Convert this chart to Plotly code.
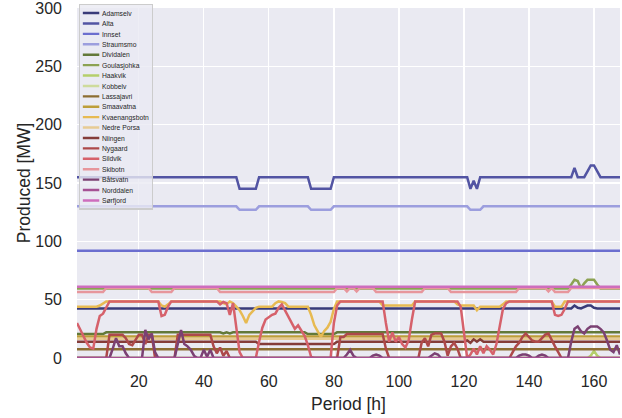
import plotly.graph_objects as go

hours = list(range(1, 169))

names = ["Adamselv", "Alta", "Innset", "Straumsmo", "Dividalen", "Goulasjohka",
         "Haakvik", "Kobbelv", "Lassajavri", "Smaavatna", "Kvaenangsbotn",
         "Nedre Porsa", "Niingen", "Nygaard", "Sildvik", "Skibotn", "Båtsvatn",
         "Norddalen", "Sørfjord"]

colors = ["#393b79", "#5254a3", "#6b6ecf", "#9c9ede", "#637939", "#8ca252",
          "#b5cf6b", "#cedb9c", "#8c6d31", "#bd9e39", "#e7ba52", "#e7cb94",
          "#843c39", "#ad494a", "#d6616b", "#e7969c", "#7b4173", "#a55194",
          "#ce6dbd"]

adamselv = [42.5] * 153 + [45, 43, 42.5, 44, 45, 45, 43] + [42.5] * 8
alta = ([155] * 50 + [145] * 6 + [155] * 16 + [145] * 7 + [155] * 42 +
        [145, 152, 145] + [155] * 29 + [163] + [155] * 3 + [160, 165, 165, 160] + [155] * 7)
innset = [92] * 168
straumsmo = ([130] * 50 + [127] * 6 + [130] * 16 + [127] * 7 + [130] * 42 +
             [127] * 4 + [130] * 43)
dividalen = [20.5] * 9 + [22] * 36 + [21, 22, 21] + [22] * 23 + [20.5] * 9 + [22] * 88
goulasjohka = [59.5] * 152 + [63, 67, 66, 60, 64, 67, 67, 67, 63, 59.5] + [59.5] * 6
haakvik = [0] * 158 + [2, 6, 2] + [0] * 7
kobbelv = [0] * 168
lassajavri = [7.5] * 168
smaavatna = [18.5] * 168
kvaenangsbotn = ([44] * 7 + [45, 47] + [48.5] * 17 + [45, 44, 46] + [48.5] * 16 +
                 [47, 46, 48.5, 47, 44, 41, 36, 30, 37, 40, 43] + [44] * 5 +
                 [47, 48.5, 48, 47, 44] + [44] * 6 +
                 [37, 28, 23, 18, 23, 26, 31, 42] + [48.5] * 14 + [45] * 10 +
                 [48.5] * 13 + [46] + [45] * 5 + [41] + [44] * 7 + [46] +
                 [48.5] * 15 + [44] * 3 + [48.5] * 18)
nedre_porsa = [16.5] * 168
niingen = [14] * 56 + [12] * 24 + [14] * 40 + [15, 13, 16, 14, 16] + [14] * 43
nygaard = ([0] * 10 + [20] * 5 + [17, 12, 11, 15, 20, 20, 12, 20, 20] + [0] * 7 +
           [20] * 11 + [10, 4, 9, 2, 6] + [0] * 34 + [18, 18] + [20.5] * 12 + [8] +
           [0] * 10 + [13, 17, 10, 20, 21, 21, 21, 14, 2, 10, 13, 8] + [0] * 16 +
           [5, 10, 13, 18, 21, 18, 15, 14, 14, 17, 20, 21, 15, 10, 5] + [0] * 19)
sildvik = ([30, 24, 18, 13, 9, 8, 25, 36, 38, 44] + [48.5] * 16 + [36, 37, 44] +
           [48.5] * 14 + [48.5, 46, 48, 47, 37, 47, 28, 5] + [0] * 5 +
           [14, 26, 33, 35, 37, 38, 43, 46, 41, 35, 30, 25, 28, 24, 19, 11, 1] +
           [0] * 6 + [30, 45] + [48.5] * 14 + [30, 14, 22, 14, 18, 12, 9, 15, 33] +
           [48.5] * 14 + [44, 20, 0, 3, 8, 3, 10, 4, 10, 7, 3, 12, 28, 42, 47] +
           [48.5] * 14 + [37, 36, 37, 42] + [48.5] * 17)
skibotn = ([56.5] * 9 + [60] * 14 + [56.5] * 7 + [60] * 14 + [56.5] * 36 +
           [60, 60, 60, 57, 60, 60, 57] + [60] * 5 + [56.5] * 15 + [60] * 8 +
           [56.5] * 21 + [60] * 9 + [57, 60] + [56.5] * 5 + [60] * 16)
batsvatn = ([0] * 11 + [8, 17, 10, 10, 4] + [0] * 5 + [24, 16, 21, 5] + [0] * 6 +
            [12, 24, 12, 10, 7, 2] + [0] * 2 + [7, 1, 7] + [0] * 41 + [3, 7, 2] +
            [0] * 5 + [2, 3, 2] + [0] * 15 + [2, 4, 3] + [0] * 24 +
            [2, 3, 3, 2, 0, 0, 2, 3, 2] + [0] * 7 +
            [14, 25, 27, 23, 21, 25, 27, 27, 27, 25, 22, 15, 7, 5, 11, 3])
norddalen = [0] * 168
sorfjord = [61] * 168

series = [adamselv, alta, innset, straumsmo, dividalen, goulasjohka, haakvik,
          kobbelv, lassajavri, smaavatna, kvaenangsbotn, nedre_porsa, niingen,
          nygaard, sildvik, skibotn, batsvatn, norddalen, sorfjord]

x_ticks = [20, 40, 60, 80, 100, 120, 140, 160]
y_ticks = [0, 50, 100, 150, 200, 250, 300]

fig = go.Figure()
for name, vals, col in zip(names, series, colors):
    fig.add_trace(go.Scatter(x=hours, y=vals, mode="lines", name=name,
                             line=dict(color=col, width=2.5)))

font_family = "Liberation Sans, Arial, sans-serif"
fig.update_layout(
    template="none",
    width=622, height=418,
    margin=dict(l=77, r=2, t=8, b=60),
    paper_bgcolor="white",
    plot_bgcolor="#EAEAF2",
    font=dict(family=font_family, color="#262626"),
    showlegend=True,
    hovermode=False,
    legend=dict(x=0.005, y=0.995, xanchor="left", yanchor="top",
                bgcolor="rgba(234,234,242,0.8)", bordercolor="#CCCCCC",
                borderwidth=2, font=dict(size=12.3, color="#262626"),
                itemwidth=30, tracegroupgap=0, maxheight=600),
)
fig.update_xaxes(range=[1, 168], tickvals=x_ticks, showgrid=True,
                 gridcolor="white", gridwidth=1.3, zeroline=False,
                 showline=False, ticks="", tickfont=dict(size=16),
                 ticklabelstandoff=12,
                 automargin=False, ticklabeloverflow="allow",
                 title=dict(text="Period [h]", font=dict(size=17.5), standoff=8))
fig.update_yaxes(range=[0, 300], tickvals=y_ticks, showgrid=True,
                 gridcolor="white", gridwidth=1.3, zeroline=False,
                 showline=False, ticks="", tickfont=dict(size=16),
                 ticklabelstandoff=14, automargin=False, ticklabeloverflow="allow",
                 title=dict(text="Produced [MW]", font=dict(size=17.5), standoff=0))

post = """
document.body.style.margin = '0';
document.body.style.padding = '0';
var gd = document.getElementById('{plot_id}');
var lg = gd.querySelector('g.legend');
if (lg) {
  lg.setAttribute('transform', 'translate(79,4) scale(0.548)');
  lg.querySelectorAll('path.js-line').forEach(function(p){ p.style.strokeWidth = '4.4px'; });
}
"""
fig.write_html("out.html", post_script=post,
               config={"displayModeBar": False, "staticPlot": True})
